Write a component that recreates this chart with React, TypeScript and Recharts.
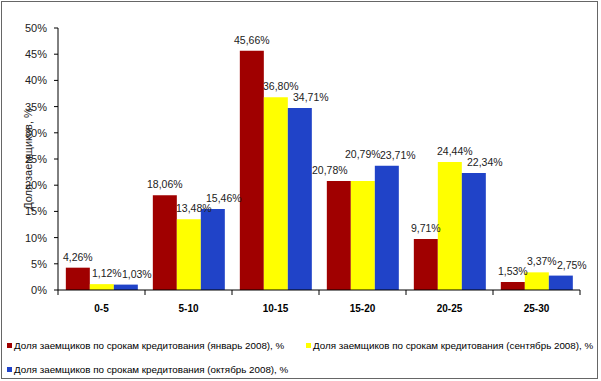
import React from 'react';
import { BarChart, Bar, XAxis, YAxis, LabelList } from 'recharts';

const categories = ['0-5', '5-10', '10-15', '15-20', '20-25', '25-30'];
const january = [4.26, 18.06, 45.66, 20.78, 9.71, 1.53];
const september = [1.12, 13.48, 36.8, 20.79, 24.44, 3.37];
const october = [1.03, 15.46, 34.71, 23.71, 22.34, 2.75];
const yTicks = [0, 5, 10, 15, 20, 25, 30, 35, 40, 45, 50];

const seriesNames = [
  'Доля заемщиков по срокам кредитования (январь 2008), %',
  'Доля заемщиков по срокам кредитования (сентябрь 2008), %',
  'Доля заемщиков по срокам кредитования (октябрь 2008), %',
];
const colors = ['#A00000', '#FFFF00', '#2043C8'];

const data = categories.map((name, i) => ({
  name,
  jan: january[i],
  sep: september[i],
  oct: october[i],
}));

const FONT = '"Liberation Sans", Arial, sans-serif';
const CHART_W = 601;
const CHART_H = 381;
const X_HEIGHT = 30;
const MARGIN = { top: 28, right: 21, bottom: 91 - X_HEIGHT, left: 0 };
const Y_WIDTH = 58;
const plotWidth = CHART_W - MARGIN.left - MARGIN.right - Y_WIDTH;
const step = plotWidth / categories.length;

const fmt = (v: any) => `${Number(v).toFixed(2).replace('.', ',')}%`;

// category ticks: label at the centre, tick marks at band boundaries
const XTick = (props: any) => {
  const { x, y, payload, index } = props;
  const left = x - step / 2;
  const right = x + step / 2;
  return (
    <g>
      <line x1={left} x2={left} y1={y - 8} y2={y - 3} stroke="#000" />
      {index === categories.length - 1 && (
        <line x1={right} x2={right} y1={y - 8} y2={y - 3} stroke="#000" />
      )}
      <text x={x} y={y + 14} textAnchor="middle" fontSize={10} fontWeight="bold" fill="#000" fontFamily={FONT}>
        {payload.value}
      </text>
    </g>
  );
};

// data label above a bar; when two neighbouring values nearly tie, nudge them apart like Excel did
const makeLabel = (series: number[], dx: number, other?: number[], lift = 0, shift = 0) => (props: any) => {
  const { x, y, width, index, value } = props;
  const clash = other ? Math.abs(series[index] - other[index]) < 1 : false;
  return (
    <text
      x={x + width / 2 + dx + (clash ? shift : 0)}
      y={y - 7 - (clash ? lift : 0)}
      textAnchor="middle"
      fontSize={10.5}
      fill="#222"
      fontFamily={FONT}
    >
      {fmt(value)}
    </text>
  );
};

const App: React.FC = () => {
  return (
    <div style={{ position: 'absolute', left: 0, top: 0, width: CHART_W, height: CHART_H, background: '#fff' }}>
      <div style={{ position: 'absolute', left: 1, top: 1, width: 595, height: 376, border: '1.5px solid #666', pointerEvents: 'none' }} />
      <BarChart
        width={CHART_W}
        height={CHART_H}
        data={data}
        margin={MARGIN}
        barCategoryGap="9%"
        barGap={0}
      >
        <XAxis
          dataKey="name"
          height={X_HEIGHT}
          axisLine={{ stroke: '#000' }}
          tickLine={false}
          tick={<XTick />}
          interval={0}
        />
        <XAxis xAxisId="top" orientation="top" dataKey="name" tick={false} tickLine={false} axisLine={{ stroke: '#999' }} height={0} />
        <YAxis
          width={Y_WIDTH}
          domain={[0, 50]}
          ticks={yTicks}
          interval={0}
          tickFormatter={(v) => `${v}%`}
          tick={{ fontSize: 11, fill: '#222', fontFamily: FONT }}
          axisLine={{ stroke: '#000' }}
          tickLine={{ stroke: '#000' }}
          tickSize={4}
          tickMargin={7}
          label={{ value: 'Доля заемщиков, %', angle: -90, position: 'center', dx: -1, style: { fontSize: 11, fill: '#222', fontFamily: FONT } }}
        />
        <YAxis yAxisId="right" orientation="right" width={0} tick={false} tickLine={false} axisLine={{ stroke: '#999' }} />
        <Bar dataKey="jan" fill={colors[0]} isAnimationActive={false}>
          <LabelList dataKey="jan" content={makeLabel(january, 0, september, 0, -9)} />
        </Bar>
        <Bar dataKey="sep" fill={colors[1]} isAnimationActive={false}>
          <LabelList dataKey="sep" content={makeLabel(september, 5, january, 16, -5)} />
        </Bar>
        <Bar dataKey="oct" fill={colors[2]} isAnimationActive={false}>
          <LabelList dataKey="oct" content={makeLabel(october, 11)} />
        </Bar>
      </BarChart>
      <div style={{ position: 'absolute', left: 0, top: 333, width: 600, display: 'flex', flexWrap: 'wrap', fontFamily: FONT, fontSize: 9.8, color: '#000' }}>
        {seriesNames.map((n, i) => (
          <div key={n} style={{ width: 299, height: 24, display: 'flex', alignItems: 'center', paddingLeft: 7, boxSizing: 'border-box', whiteSpace: 'nowrap' }}>
            <span style={{ width: 5, height: 5, background: colors[i], marginRight: 2, display: 'inline-block', flexShrink: 0 }} />
            <span>{n}</span>
          </div>
        ))}
      </div>
    </div>
  );
};

export default App;
